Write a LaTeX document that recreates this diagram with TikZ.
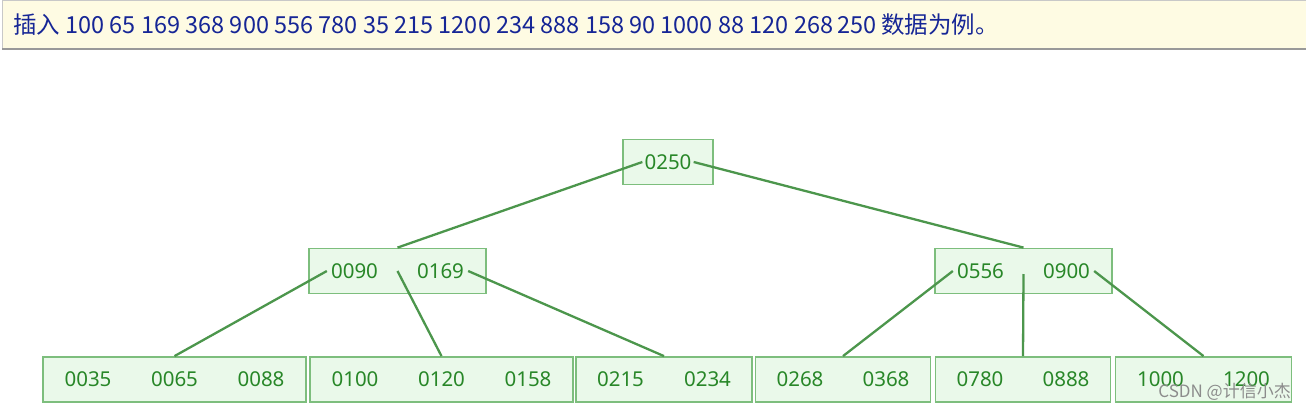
\documentclass[tikz,border=0pt]{standalone}
\usepackage{fontspec}
\setmainfont{Noto Sans}
\newfontfamily\cjk{Noto Sans CJK SC}
\definecolor{edgegreen}{RGB}{76,150,76}
\definecolor{boxline}{RGB}{125,190,125}
\definecolor{boxfill}{RGB}{234,249,234}
\definecolor{keygreen}{RGB}{40,135,40}
\definecolor{notefill}{RGB}{254,251,227}
\definecolor{noteline}{RGB}{200,200,200}
\definecolor{notetext}{RGB}{22,38,150}

\begin{document}
\begin{tikzpicture}[x=1pt,y=-1pt,
		bnode/.style={draw=boxline,fill=boxfill,line width=1.8pt,minimum height=45pt,inner sep=0pt},
		key/.style={text=keygreen,font=\fontsize{20.5}{23}\selectfont,inner sep=0pt},
		link/.style={draw=edgegreen,line width=2.3pt}]
	\useasboundingbox (0,0) rectangle (1306,410);

	% banner
	\draw[noteline,fill=notefill,line width=1pt] (2,0.5) rectangle (1306,48.5);
	\draw[black!40,line width=2pt] (2,49) -- (1306,49);
	\node[anchor=west,text=notetext,inner sep=0pt,font=\cjk\fontsize{23.5}{26}\selectfont] (note) at (13,25)
		{插入 100 65 169 368 900 556 780 35 215 1200 234 888 158 90 1000 88 120 268\,250 数据为例。};

	% boxes
	\node[bnode,minimum width=90pt] (root) at (668,162) {};
	\node[bnode,minimum width=177pt] (midL) at (397.5,271) {};
	\node[bnode,minimum width=177pt] (midR) at (1023.5,271) {};
	\node[bnode,minimum width=263pt] (leafA) at (174.5,379.5) {};
	\node[bnode,minimum width=263pt] (leafB) at (441.5,379.5) {};
	\node[bnode,minimum width=176pt] (leafC) at (664,379.5) {};
	\node[bnode,minimum width=175pt] (leafD) at (843,379.5) {};
	\node[bnode,minimum width=175pt] (leafE) at (1023,379.5) {};
	\node[bnode,minimum width=176pt] (leafF) at (1203.5,379.5) {};

	% keys
	\node[key] (k250) at (root) {0250};
	\node[key] (k090) at ([xshift=-43pt]midL.center) {0090};
	\node[key] (k169) at ([xshift=43pt]midL.center) {0169};
	\node[key] (k556) at ([xshift=-43pt]midR.center) {0556};
	\node[key] (k900) at ([xshift=43pt]midR.center) {0900};
	\node[key] (k035) at ([xshift=-86.5pt]leafA.center) {0035};
	\node[key] (k065) at (leafA) {0065};
	\node[key] (k088) at ([xshift=86.5pt]leafA.center) {0088};
	\node[key] (k100) at ([xshift=-86.5pt]leafB.center) {0100};
	\node[key] (k120) at (leafB) {0120};
	\node[key] (k158) at ([xshift=86.5pt]leafB.center) {0158};
	\node[key] (k215) at ([xshift=-43.5pt]leafC.center) {0215};
	\node[key] (k234) at ([xshift=43.5pt]leafC.center) {0234};
	\node[key] (k268) at ([xshift=-43pt]leafD.center) {0268};
	\node[key] (k368) at ([xshift=43pt]leafD.center) {0368};
	\node[key] (k780) at ([xshift=-43pt]leafE.center) {0780};
	\node[key] (k888) at ([xshift=43pt]leafE.center) {0888};
	\node[key] (k1000) at ([xshift=-43pt]leafF.center) {1000};
	\node[key] (k1200) at ([xshift=43pt]leafF.center) {1200};

	% links
	\draw[link] ([xshift=-2pt]k250.west) -- (midL.north);
	\draw[link] ([xshift=2pt]k250.east) -- (midR.north);
	\draw[link] ([xshift=-4pt]k090.west) -- (leafA.north);
	\draw[link] (midL.center) -- (leafB.north);
	\draw[link] ([xshift=4pt]k169.east) -- (leafC.north);
	\draw[link] ([xshift=-4pt]k556.west) -- (leafD.north);
	\draw[link] ([yshift=-3pt]midR.center) -- (leafE.north);
	\draw[link] ([xshift=4pt]k900.east) -- (leafF.north);

	% watermark
	\node[anchor=east,text=black!45,inner sep=0pt,font=\cjk\fontsize{17}{19}\selectfont] (mark) at (1291,392) {CSDN @计信小杰};
\end{tikzpicture}
\end{document}
